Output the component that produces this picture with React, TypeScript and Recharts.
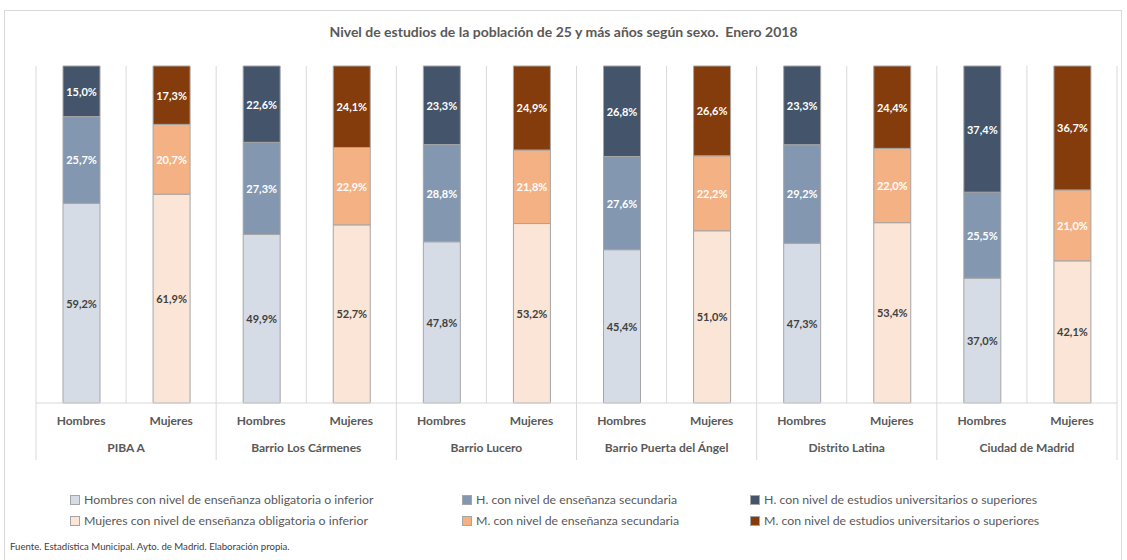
import React from 'react';
import { BarChart, Bar, XAxis, YAxis, ReferenceLine, LabelList } from 'recharts';

const regions = [
  'PIBA A',
  'Barrio Los Cármenes',
  'Barrio Lucero',
  'Barrio Puerta del Ángel',
  'Distrito Latina',
  'Ciudad de Madrid',
];
const sexes = ['Hombres', 'Mujeres'];

// % sobre población de 25 y más años
const hombresObligatoria = [59.2, 49.9, 47.8, 45.4, 47.3, 37.0];
const hombresSecundaria = [25.7, 27.3, 28.8, 27.6, 29.2, 25.5];
const hombresUniversitaria = [15.0, 22.6, 23.3, 26.8, 23.3, 37.4];
const mujeresObligatoria = [61.9, 52.7, 53.2, 51.0, 53.4, 42.1];
const mujeresSecundaria = [20.7, 22.9, 21.8, 22.2, 22.0, 21.0];
const mujeresUniversitaria = [17.3, 24.1, 24.9, 26.6, 24.4, 36.7];

const series = [
  { key: 'hLow', name: 'Hombres con nivel de enseñanza obligatoria o inferior', color: '#d6dce5', text: '#404040' },
  { key: 'hMid', name: 'H. con nivel de enseñanza secundaria', color: '#8497b0', text: '#ffffff' },
  { key: 'hHigh', name: 'H. con nivel de estudios universitarios o superiores', color: '#44546a', text: '#ffffff' },
  { key: 'mLow', name: 'Mujeres con nivel de enseñanza obligatoria o inferior', color: '#fbe5d6', text: '#404040' },
  { key: 'mMid', name: 'M. con nivel de enseñanza secundaria', color: '#f4b183', text: '#ffffff' },
  { key: 'mHigh', name: 'M. con nivel de estudios universitarios o superiores', color: '#843c0c', text: '#ffffff' },
];

const data = regions.flatMap((region, i) => [
  {
    key: `${region}|Hombres`,
    hLow: hombresObligatoria[i],
    hMid: hombresSecundaria[i],
    hHigh: hombresUniversitaria[i],
    mLow: 0,
    mMid: 0,
    mHigh: 0,
  },
  {
    key: `${region}|Mujeres`,
    hLow: 0,
    hMid: 0,
    hHigh: 0,
    mLow: mujeresObligatoria[i],
    mMid: mujeresSecundaria[i],
    mHigh: mujeresUniversitaria[i],
  },
]);

const FONT = 'Lato, "Open Sans", sans-serif';
const GRID = '#d9d9d9';

const fmt = (v: number) => `${v.toFixed(1).replace('.', ',')}%`;

const segmentLabel = (textColor: string) => (props: any) => {
  const { x, y, width, height, value } = props;
  if (!value) return null;
  return (
    <text
      x={Number(x) + Number(width) / 2}
      y={Number(y) + Number(height) / 2}
      textAnchor="middle"
      dominantBaseline="central"
      fill={textColor}
      fontFamily={FONT}
      fontSize={11}
      fontWeight="bold"
    >
      {fmt(Number(value))}
    </text>
  );
};

const AxisTick = (props: any) => {
  const { x, y, payload, index, width, visibleTicksCount } = props;
  let step = Number(width) / Number(visibleTicksCount);
  if (!isFinite(step)) step = 1081 / data.length;
  const [region, sex] = String(payload.value).split('|');
  const last = index === visibleTicksCount - 1;
  return (
    <g>
      <text x={x} y={y + 22} textAnchor="middle" fill="#595959" fontFamily={FONT} fontSize={12} fontWeight="bold">
        {sex}
      </text>
      {index % sexes.length === 0 && (
        <>
          <line x1={x - step / 2} x2={x - step / 2} y1={y} y2={y + 57} stroke={GRID} />
          <text x={x + step / 2} y={y + 49} textAnchor="middle" fill="#595959" fontFamily={FONT} fontSize={12} fontWeight="bold">
            {region}
          </text>
        </>
      )}
      {last && <line x1={x + step / 2} x2={x + step / 2} y1={y} y2={y + 57} stroke={GRID} />}
    </g>
  );
};

const legendRows = [
  [series[0], series[1], series[2]],
  [series[3], series[4], series[5]],
];
const legendCols = [70, 462, 750];

export default function App() {
  return (
    <div
      style={{
        position: 'absolute',
        left: 0,
        top: 0,
        width: 1127,
        height: 560,
        background: '#fff',
        overflow: 'hidden',
        fontFamily: FONT,
      }}
    >
      <div
        style={{
          position: 'absolute',
          left: 4,
          top: 10,
          width: 1118,
          height: 580,
          border: `1px solid ${GRID}`,
          boxSizing: 'border-box',
        }}
      />
      <div
        style={{
          position: 'absolute',
          top: 23,
          left: 0,
          width: 1127,
          textAlign: 'center',
          fontSize: 14,
          fontWeight: 'bold',
          color: '#595959',
        }}
      >
        Nivel de estudios de la población de 25 y más años según sexo.&nbsp; Enero 2018
      </div>
      <div style={{ position: 'absolute', left: 0, top: 0 }}>
        <BarChart
          width={1127}
          height={470}
          data={data}
          stackOffset="expand"
          margin={{ top: 66, right: 10, left: 36, bottom: 7 }}
        >
          <YAxis hide domain={[0, 1]} />
          <XAxis
            dataKey="key"
            interval={0}
            height={60}
            tickLine={false}
            tickSize={0}
            tickMargin={0}
            axisLine={{ stroke: GRID }}
            tick={<AxisTick />}
          />
          {data.map((d) => (
            <ReferenceLine key={d.key} x={d.key} position="start" stroke={GRID} />
          ))}
          <ReferenceLine x={data[data.length - 1].key} position="end" stroke={GRID} />
          {series.map((s) => (
            <Bar
              key={s.key}
              dataKey={s.key}
              name={s.name}
              stackId="s"
              barSize={37}
              fill={s.color}
              stroke="#a5a5a5"
              strokeWidth={1}
              isAnimationActive={false}
            >
              <LabelList dataKey={s.key} content={segmentLabel(s.text)} />
            </Bar>
          ))}
        </BarChart>
      </div>
      {legendRows.map((row, r) =>
        row.map((s, c) => (
          <div
            key={s.key}
            style={{
              position: 'absolute',
              left: legendCols[c],
              top: 492 + r * 21,
              display: 'flex',
              alignItems: 'center',
              fontSize: 12.3,
              color: '#595959',
              whiteSpace: 'nowrap',
            }}
          >
            <span
              style={{
                display: 'inline-block',
                width: 8,
                height: 8,
                background: s.color,
                border: '1px solid #a5a5a5',
                marginRight: 4,
              }}
            />
            {s.name}
          </div>
        ))
      )}
      <div
        style={{
          position: 'absolute',
          left: 10,
          top: 541,
          fontSize: 9.6,
          color: '#404040',
        }}
      >
        Fuente. Estadística Municipal. Ayto. de Madrid. Elaboración propia.
      </div>
    </div>
  );
}
